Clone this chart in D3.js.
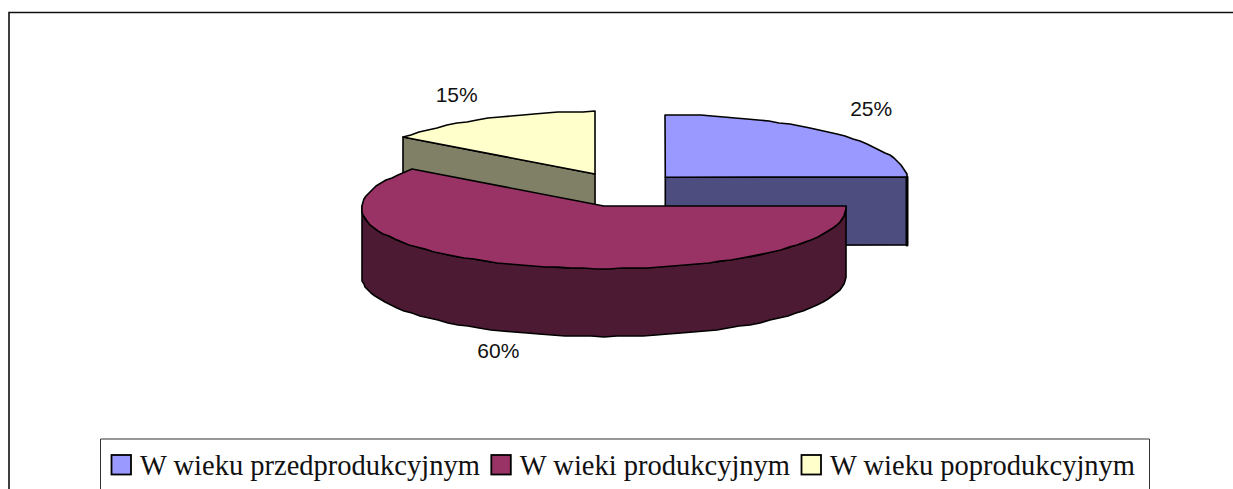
<!DOCTYPE html>
<html>
<head>
<meta charset="utf-8">
<script src="https://cdn.jsdelivr.net/npm/d3@7"></script>
<style>
html, body { margin: 0; padding: 0; background: #fff; overflow: hidden; }
svg { display: block; }
</style>
</head>
<body>
<div id="chart"></div>
<script>
// chart data
const categories = ["W wieku przedprodukcyjnym", "W wieki produkcyjnym", "W wieku poprodukcyjnym"];
const shares = [25, 60, 15];
const topColors = ["#9999ff", "#993366", "#ffffcc"];
const wallColors = ["#4d4d80", "#4d1a33", "#808066"];

// size of the page and the fake 3d pie
const width = 1233, height = 489;
const cx = 622.5, cy = 189.5;   // middle of the pie before the slices are pulled out
const rx = 242, ry = 62.5;      // radii of the flattened pie
const depth = 68;               // height of the pie walls
const explodeX = 60.5, explodeY = 17.4;   // how far slices are pulled out
const perspective = 0.033;      // the back of the pie is a bit narrower
const arcStep = Math.PI / 60;

// the percent labels sit on a ring round the slice, then a small correction for each one
const labelRing = 1.25;
const labelNudge = [[-8, -13], [-12, 2], [-1, -10]];

const svg = d3.select("#chart")
    .append("svg")
    .attr("width", width)
    .attr("height", height);

// chart frame, the right and bottom sides are cut off in the original
svg.append("path")
    .attr("d", "M9,489V12.5H1233")
    .attr("fill", "none")
    .attr("stroke", "#111")
    .attr("stroke-width", 1.6);

// Compute the position of each group on the pie
const pie = d3.pie().sort(null).value(function (d) { return d; });
const slices = pie(shares);

const line = d3.line();

// point on the rim of a slice
function rim(c, a) {
    const x = rx * Math.sin(a) * (1 - perspective * Math.cos(a));
    return [Math.round(c[0] + x), Math.round(c[1] - ry * Math.cos(a))];
}
function down(p) {
    return [p[0], p[1] + depth];
}
function sliceCenter(d) {
    const mid = (d.startAngle + d.endAngle) / 2;
    return [cx + explodeX * Math.sin(mid), cy - explodeY * Math.cos(mid)];
}
function rimPoints(c, a0, a1) {
    const steps = Math.max(1, Math.ceil((a1 - a0) / arcStep));
    return d3.range(steps + 1).map(function (i) {
        return rim(c, a0 + (a1 - a0) * i / steps);
    });
}

function drawPath(pts, fill, strokeWidth) {
    svg.append("path")
        .attr("d", line(pts) + "Z")
        .attr("fill", fill)
        .attr("stroke", "#000")
        .attr("stroke-width", strokeWidth || 1.6)
        .attr("stroke-linejoin", "round");
}

// back slices first, the big front one goes over them
[2, 0, 1].forEach(function (i) {
    const d = slices[i];
    const c = sliceCenter(d);
    const a0 = d.startAngle, a1 = d.endAngle;

    // cut faces, only the ones turned to the viewer
    if (Math.sin(a0) < -0.001) {
        const e = rim(c, a0);
        drawPath([c, e, down(e), down(c)], wallColors[i]);
    }
    if (Math.sin(a1) > 0.001) {
        const e = rim(c, a1);
        drawPath([c, e, down(e), down(c)], wallColors[i]);
    }

    // outer wall, front half of the ellipse only
    const w0 = Math.max(a0, Math.PI / 2), w1 = Math.min(a1, Math.PI * 1.5);
    if (Math.abs(w1 - w0) < 0.001) {
        // wall seen edge on, only a thick line is left of it
        const e = rim(c, w0);
        drawPath([e, down(e)], "none", 3);
    } else if (w1 > w0) {
        const upper = rimPoints(c, w0, w1);
        drawPath(upper.concat(upper.map(down).reverse()), wallColors[i]);
    }

    // top of the slice
    drawPath([c].concat(rimPoints(c, a0, a1)), topColors[i]);
});

// percent labels
slices.forEach(function (d, i) {
    const c = sliceCenter(d);
    const mid = (d.startAngle + d.endAngle) / 2;
    const front = Math.cos(mid) < 0;
    svg.append("text")
        .attr("x", c[0] + labelRing * rx * Math.sin(mid) + labelNudge[i][0])
        .attr("y", c[1] - labelRing * ry * Math.cos(mid) + (front ? depth : 0) + labelNudge[i][1])
        .attr("dy", "0.35em")
        .attr("text-anchor", "middle")
        .style("font-family", "'Liberation Sans'")
        .style("font-size", "21px")
        .style("fill", "#111")
        .text(d.data + "%");
});

// legend box, also cut off at the bottom
svg.append("path")
    .attr("d", "M100.5,489V439H1149.5V489")
    .attr("fill", "none")
    .attr("stroke", "#333")
    .attr("stroke-width", 1);

const swatchSize = 19.5;
let legendX = 111;
categories.forEach(function (name, i) {
    svg.append("rect")
        .attr("x", legendX + 0.5)
        .attr("y", 455)
        .attr("width", swatchSize)
        .attr("height", swatchSize)
        .attr("fill", topColors[i])
        .attr("stroke", "#000")
        .attr("stroke-width", 1.8);
    const t = svg.append("text")
        .attr("x", legendX + 29)
        .attr("y", 475)
        .style("font-family", "'Liberation Serif'")
        .style("font-size", "28.5px")
        .style("fill", "#111")
        .text(name);
    legendX += 29 + t.node().getComputedTextLength() + 11;
});
</script>
</body>
</html>
